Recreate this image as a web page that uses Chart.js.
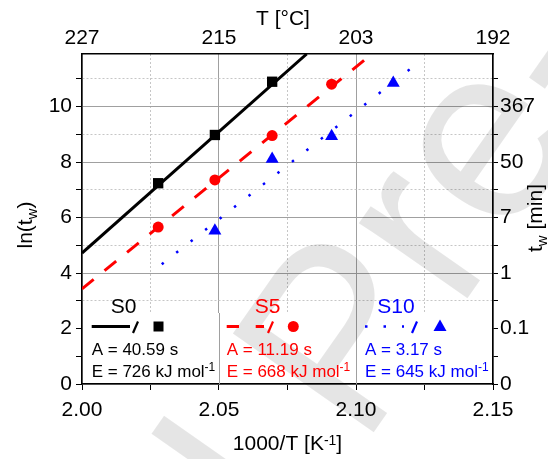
<!DOCTYPE html>
<html lang="en">
<head>
<meta charset="UTF-8">
<title>Arrhenius plot</title>
<script src="https://cdn.jsdelivr.net/npm/chart.js"></script>
<style>
    body { margin: 0; padding: 0; background: #fff; }
    canvas { display: block; }
</style>
</head>
<body>
<canvas id="myChart" width="548" height="459"></canvas>
<script>
// x = 1000/T [1/K], y = ln(tw)
const seriesNames = ['S0', 'S5', 'S10'];
const seriesColors = ['#000000', '#ff0000', '#0000ff'];
const aValues = ['40.59', '11.19', '3.17'];
const eValues = ['726', '668', '645'];

const s0X = [2.0278, 2.0485, 2.0694];
const s0Y = [7.24, 8.98, 10.90];
const s5X = [2.0278, 2.0485, 2.0694, 2.0911];
const s5Y = [5.66, 7.36, 8.96, 10.81];
const s10X = [2.0485, 2.0694, 2.0911, 2.1136];
const s10Y = [5.53, 8.11, 8.93, 10.85];

// fit lines, end points
const s0FitX = [2.000, 2.082];
const s0FitY = [4.72, 11.9];
const s5FitX = [2.000, 2.1058];
const s5FitY = [3.43, 11.9];
const s10FitX = [2.0291, 2.1231];
const s10FitY = [4.32, 11.62];

const topTickLabels = ['227', '215', '203', '192'];
const rightTickLabels = ['0', '0.1', '1', '7', '50', '367'];

const FONT = "'Liberation Sans', Arial, sans-serif";

function pts(xs, ys) {
    return xs.map((x, i) => ({ x: x, y: ys[i] }));
}

// draw text made of parts (for sub/superscripts)
function richText(ctx, parts, x, y, align) {
    let total = 0;
    parts.forEach(p => {
        ctx.font = (p.bold ? 'bold ' : '') + p.size + 'px ' + FONT;
        p.w = ctx.measureText(p.t).width;
        total += p.w;
    });
    let cx = align === 'center' ? x - total / 2 : x;
    ctx.textAlign = 'left';
    ctx.textBaseline = 'alphabetic';
    parts.forEach(p => {
        ctx.font = (p.bold ? 'bold ' : '') + p.size + 'px ' + FONT;
        ctx.fillText(p.t, cx, y + (p.dy || 0));
        cx += p.w;
    });
}

const gridColor = c => (c.index % 2 === 0) ? '#a0a0a0' : '#c6c6c6';
const gridDash = c => (c.tick && c.index % 2 === 1) ? [2, 2] : [];

const decor = {
    id: 'decor',
    beforeDatasetsDraw(chart) {
        const { ctx, chartArea: a, scales } = chart;
        const x = scales.x;
        // white legend band
        ctx.save();
        ctx.fillStyle = '#fff';
        ctx.fillRect(a.left + 1, 313, a.right - a.left - 2, a.bottom - 313 - 1);
        ctx.strokeStyle = '#a0a0a0';
        ctx.lineWidth = 1;
        [2.05, 2.10].forEach(v => {
            const px = Math.round(x.getPixelForValue(v)) + 0.5;
            ctx.beginPath();
            ctx.moveTo(px, 313);
            ctx.lineTo(px, a.bottom);
            ctx.stroke();
        });
        ctx.restore();

        // watermark
        ctx.save();
        ctx.fillStyle = 'rgba(0,0,0,0.1)';
        const size = 250;
        ctx.font = size + 'px ' + FONT;
        const ang = -55 * Math.PI / 180;
        const pre = ctx.measureText('Journal Pr').width;
        const we = ctx.measureText('e').width;
        const lx = pre + we / 2, ly = -0.26 * size;
        const rx = lx * Math.cos(ang) - ly * Math.sin(ang);
        const ry = lx * Math.sin(ang) + ly * Math.cos(ang);
        ctx.translate(492 - rx, 150 - ry);
        ctx.rotate(ang);
        ctx.textAlign = 'left';
        ctx.textBaseline = 'alphabetic';
        ctx.fillText('Journal Pre-proof', 0, 0);
        ctx.restore();
    },
    afterDatasetsDraw(chart) {
        const { ctx, chartArea: a, scales } = chart;
        const x = scales.x;
        const edges = [2.00, 2.05, 2.10];
        const titleOff = [41.5, 48.5, 40];
        const lineStart = [9.7, 7.7, 9];
        const lineEnd = [48, 45, 48];
        const dashes = [[], [12.3, 16.7], [2.5, 16]];
        const widths = [3, 3, 2.5];
        const slashX = [50, 48, 55];
        const markX = [76.5, 74.3, 84];
        const textX = [9.7, 7.7, 9];

        ctx.save();
        seriesNames.forEach((name, i) => {
            const L = x.getPixelForValue(edges[i]);
            const col = seriesColors[i];
            ctx.fillStyle = col;
            ctx.strokeStyle = col;
            richText(ctx, [{ t: name, size: 21 }], L + titleOff[i], 312.5, 'center');

            ctx.lineWidth = widths[i];
            ctx.setLineDash(dashes[i]);
            ctx.beginPath();
            ctx.moveTo(L + lineStart[i], 326.5);
            ctx.lineTo(L + lineEnd[i], 326.5);
            ctx.stroke();
            ctx.setLineDash([]);

            // slash separator, drawn as a stroke so it leans like the original
            ctx.lineWidth = 2.2;
            ctx.beginPath();
            ctx.moveTo(L + slashX[i] + 1, 333);
            ctx.lineTo(L + slashX[i] + 6, 321.5);
            ctx.stroke();

            const mx = L + markX[i], my = 326.5;
            ctx.beginPath();
            if (i === 0) {
                ctx.rect(mx - 5, my - 5, 10, 10);
            } else if (i === 1) {
                ctx.arc(mx, my, 5.5, 0, Math.PI * 2);
            } else {
                ctx.moveTo(mx, my - 7);
                ctx.lineTo(mx + 6.5, my + 4.5);
                ctx.lineTo(mx - 6.5, my + 4.5);
                ctx.closePath();
            }
            ctx.fill();

            richText(ctx, [{ t: 'A = ' + aValues[i] + ' s', size: 17 }], L + textX[i], 355, 'left');
            richText(ctx, [
                { t: 'E = ' + eValues[i] + ' kJ mol', size: 17 },
                { t: '-1', size: 12, dy: -5.5 }
            ], L + textX[i], 376.7, 'left');
        });
        ctx.restore();

        // axis titles
        ctx.save();
        ctx.fillStyle = '#000';
        richText(ctx, [{ t: '1000/T [K', size: 21 }, { t: '-1', size: 14, dy: -5 }, { t: ']', size: 21 }],
            (a.left + a.right) / 2, 450, 'center');
        richText(ctx, [{ t: 'T [°C]', size: 21 }], 283, 25, 'center');

        ctx.save();
        ctx.translate(31.5, 225);
        ctx.rotate(-Math.PI / 2);
        richText(ctx, [{ t: 'ln(t', size: 21 }, { t: 'w', size: 15, dy: 5 }, { t: ')', size: 21 }], 0, 0, 'center');
        ctx.restore();

        ctx.save();
        ctx.translate(542, 218);
        ctx.rotate(-Math.PI / 2);
        richText(ctx, [{ t: 't', size: 21 }, { t: 'w', size: 15, dy: 5 }, { t: ' [min]', size: 21 }], 0, 0, 'center');
        ctx.restore();
        ctx.restore();
    }
};

const tickFont = { family: FONT, size: 21 };

new Chart(document.getElementById('myChart'), {
    type: 'scatter',
    data: {
        datasets: [
            { label: 'S0 fit', data: pts(s0FitX, s0FitY), showLine: true, borderColor: '#000', borderWidth: 3,
              pointRadius: 0, order: 2 },
            { label: 'S5 fit', data: pts(s5FitX, s5FitY), showLine: true, borderColor: '#ff0000', borderWidth: 3,
              borderDash: [15, 14], pointRadius: 0, order: 2 },
            { label: 'S10 fit', data: pts(s10FitX, s10FitY), showLine: true, borderColor: '#0000ff', borderWidth: 2.5,
              borderDash: [2.5, 15.9], pointRadius: 0, order: 2 },
            { label: 'S0', data: pts(s0X, s0Y), pointStyle: 'rect', pointRadius: 7.3,
              backgroundColor: '#000', borderColor: '#000', borderWidth: 0, order: 1 },
            { label: 'S5', data: pts(s5X, s5Y), pointStyle: 'circle', pointRadius: 5.5,
              backgroundColor: '#ff0000', borderColor: '#ff0000', borderWidth: 0, order: 1 },
            { label: 'S10', data: pts(s10X, s10Y), pointStyle: 'triangle', pointRadius: 7.5,
              backgroundColor: '#0000ff', borderColor: '#0000ff', borderWidth: 0, order: 1 }
        ]
    },
    options: {
        responsive: false,
        animation: false,
        layout: { padding: 0 },
        plugins: { legend: { display: false }, tooltip: { enabled: false } },
        scales: {
            x: {
                type: 'linear', position: 'bottom', min: 2.0, max: 2.15,
                afterFit: s => { s.height = 75; },
                ticks: { stepSize: 0.025, autoSkip: false, maxRotation: 0, color: '#000', font: tickFont, padding: 8,
                         callback: (v, i) => i % 2 === 0 ? v.toFixed(2) : '' },
                grid: { color: gridColor, lineWidth: 1, tickColor: '#000', tickLength: 6 },
                border: { color: '#000', width: 1.5, dash: gridDash }
            },
            x2: {
                type: 'linear', position: 'top', min: 2.0, max: 2.15,
                afterFit: s => { s.height = 54; },
                ticks: { stepSize: 0.025, autoSkip: false, maxRotation: 0, color: '#000', font: tickFont, padding: 3,
                         callback: (v, i) => i % 2 === 0 ? topTickLabels[i / 2] : '' },
                grid: { drawOnChartArea: false, drawTicks: false },
                border: { color: '#000', width: 1.5 }
            },
            y: {
                type: 'linear', position: 'left', min: 0, max: 11.9,
                afterFit: s => { s.width = 82; },
                ticks: { stepSize: 1, includeBounds: false, autoSkip: false, color: '#000', font: tickFont, padding: 4,
                         callback: v => v % 2 === 0 ? String(v) : '' },
                grid: { color: gridColor, lineWidth: 1, tickColor: '#000', tickLength: 6 },
                border: { color: '#000', width: 1.5, dash: gridDash }
            },
            y2: {
                type: 'linear', position: 'right', min: 0, max: 11.9,
                afterFit: s => { s.width = 55; },
                ticks: { stepSize: 1, includeBounds: false, autoSkip: false, color: '#000', font: tickFont, padding: 2,
                         callback: v => v % 2 === 0 ? rightTickLabels[v / 2] : '' },
                grid: { drawOnChartArea: false, tickColor: '#000', tickLength: 5 },
                border: { color: '#000', width: 1.5 }
            }
        }
    },
    plugins: [decor]
});
</script>
</body>
</html>
